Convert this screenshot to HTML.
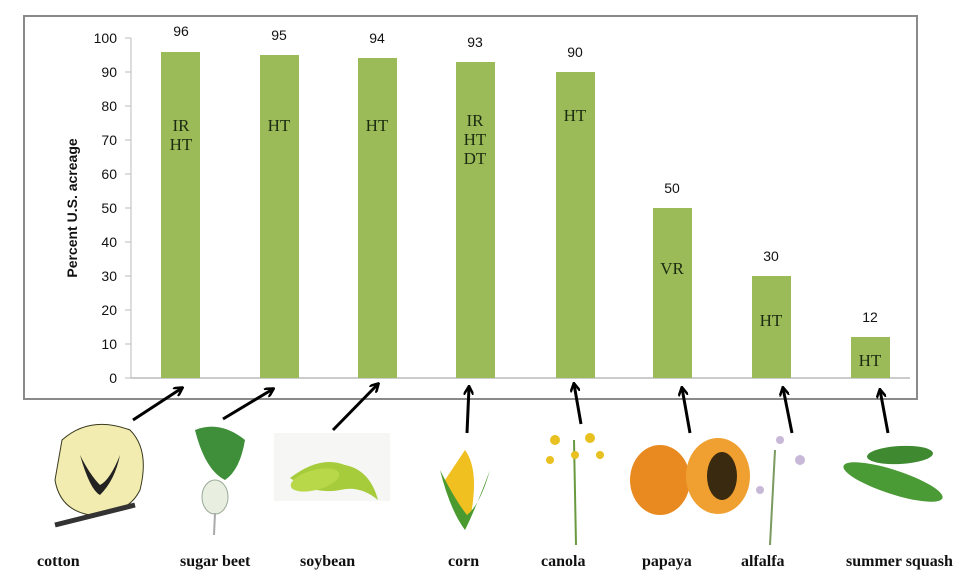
<!DOCTYPE html>
<html><head><meta charset="utf-8"><style>
body{margin:0;background:#fff;width:980px;height:573px;overflow:hidden}
svg{display:block}
.t{font-family:"Liberation Sans",sans-serif;font-size:14px;fill:#111}
.b{font-family:"Liberation Serif",serif;font-size:17px;fill:#1a2a10}
.n{font-family:"Liberation Serif",serif;font-size:16px;font-weight:bold;fill:#111}
</style></head><body>
<svg width="980" height="573" viewBox="0 0 980 573">
<defs><marker id="ah" markerWidth="10" markerHeight="10" refX="8" refY="5" orient="auto" markerUnits="userSpaceOnUse"><path d="M0,0 L9,5 L0,10" fill="none" stroke="#000" stroke-width="2.5"/></marker></defs>
<rect x="24" y="16" width="893" height="383" fill="#fff" stroke="#8a8a8a" stroke-width="2"/>
<line x1="131" y1="38" x2="131" y2="378" stroke="#bbb"/>
<line x1="131" y1="378" x2="910" y2="378" stroke="#bbb" stroke-width="1.5"/>
<g stroke="#bbb">
<line x1="125" y1="38" x2="131" y2="38"/><line x1="125" y1="72" x2="131" y2="72"/><line x1="125" y1="106" x2="131" y2="106"/><line x1="125" y1="140" x2="131" y2="140"/><line x1="125" y1="174" x2="131" y2="174"/><line x1="125" y1="208" x2="131" y2="208"/><line x1="125" y1="242" x2="131" y2="242"/><line x1="125" y1="276" x2="131" y2="276"/><line x1="125" y1="310" x2="131" y2="310"/><line x1="125" y1="344" x2="131" y2="344"/><line x1="125" y1="378" x2="131" y2="378"/>
</g>
<g class="t" text-anchor="end">
<text x="117" y="43">100</text><text x="117" y="77">90</text><text x="117" y="111">80</text><text x="117" y="145">70</text><text x="117" y="179">60</text><text x="117" y="213">50</text><text x="117" y="247">40</text><text x="117" y="281">30</text><text x="117" y="315">20</text><text x="117" y="349">10</text><text x="117" y="383">0</text>
</g>
<text class="t" font-weight="bold" font-size="13" transform="translate(77,208) rotate(-90)" text-anchor="middle">Percent U.S. acreage</text>
<g fill="#9bbb59">
<rect x="161" y="52" width="39" height="326"/>
<rect x="260" y="55" width="39" height="323"/>
<rect x="358" y="58" width="39" height="320"/>
<rect x="456" y="62" width="39" height="316"/>
<rect x="556" y="72" width="39" height="306"/>
<rect x="653" y="208" width="39" height="170"/>
<rect x="752" y="276" width="39" height="102"/>
<rect x="851" y="337" width="39" height="41"/>
</g>
<g class="t" text-anchor="middle">
<text x="181" y="36">96</text><text x="279" y="40">95</text><text x="377" y="43">94</text><text x="475" y="47">93</text><text x="575" y="57">90</text><text x="672" y="193">50</text><text x="771" y="261">30</text><text x="870" y="322">12</text>
</g>
<g class="b" text-anchor="middle">
<text x="181" y="131">IR</text><text x="181" y="150">HT</text>
<text x="279" y="131">HT</text><text x="377" y="131">HT</text>
<text x="475" y="126">IR</text><text x="475" y="145">HT</text><text x="475" y="164">DT</text>
<text x="575" y="121">HT</text><text x="672" y="274">VR</text><text x="771" y="326">HT</text><text x="870" y="366">HT</text>
</g>
<g stroke="#000" stroke-width="3" marker-end="url(#ah)">
<line x1="133" y1="420" x2="182" y2="388"/>
<line x1="223" y1="419" x2="273" y2="389"/>
<line x1="333" y1="430" x2="378" y2="384"/>
<line x1="467" y1="433" x2="469" y2="387"/>
<line x1="581" y1="424" x2="574" y2="384"/>
<line x1="690" y1="433" x2="682" y2="388"/>
<line x1="792" y1="433" x2="783" y2="388"/>
<line x1="888" y1="433" x2="880" y2="390"/>
</g>
<path d="M62,440 Q90,415 130,430 Q150,450 140,490 Q128,515 90,515 Q60,510 55,480 Z" fill="#f3ecb0" stroke="#3a3a20"/>
<path d="M80,455 Q90,490 100,495 Q115,480 120,455 Q110,480 100,485 Q90,475 80,455Z" fill="#222"/>
<path d="M55,525 L135,505" stroke="#333" stroke-width="5"/>
<path d="M195,430 Q220,420 245,440 Q240,470 225,480 Q205,470 195,430Z" fill="#3f8f3a"/>
<ellipse cx="215" cy="497" rx="13" ry="17" fill="#e8eee0" stroke="#9a9"/>
<line x1="215" y1="513" x2="214" y2="535" stroke="#aaa" stroke-width="2"/>
<rect x="274" y="433" width="116" height="68" fill="#f6f6f4"/>
<path d="M290,478 Q320,455 345,465 Q370,470 378,500 Q360,485 340,490 Q315,495 290,478Z" fill="#a6cc3c"/>
<ellipse cx="315" cy="480" rx="25" ry="10" fill="#b8d84a" transform="rotate(-15 315 480)"/>
<path d="M465,450 Q480,470 470,520 Q455,520 445,480 Z" fill="#f0c020"/>
<path d="M440,470 Q450,510 465,530 Q475,510 490,470 Q480,505 467,515 Q455,500 440,470Z" fill="#4a9a30"/>
<line x1="574" y1="440" x2="576" y2="545" stroke="#6a9a40" stroke-width="2"/>
<g fill="#e8c020"><circle cx="555" cy="440" r="5"/><circle cx="590" cy="438" r="5"/><circle cx="575" cy="455" r="4"/><circle cx="600" cy="455" r="4"/><circle cx="550" cy="460" r="4"/></g>
<ellipse cx="660" cy="480" rx="30" ry="35" fill="#e88a20"/>
<ellipse cx="718" cy="476" rx="32" ry="38" fill="#f0a030"/>
<ellipse cx="722" cy="476" rx="15" ry="24" fill="#3a2a10"/>
<line x1="775" y1="450" x2="770" y2="545" stroke="#7a9a60" stroke-width="2"/>
<g fill="#c8b8d8"><circle cx="800" cy="460" r="5"/><circle cx="780" cy="440" r="4"/><circle cx="760" cy="490" r="4"/></g>
<ellipse cx="900" cy="455" rx="33" ry="9" fill="#3f8a30" transform="rotate(-3 900 455)"/>
<ellipse cx="893" cy="482" rx="52" ry="12" fill="#4a9a35" transform="rotate(18 893 482)"/>
<g class="n">
<text x="37" y="566">cotton</text><text x="180" y="566">sugar beet</text><text x="300" y="566">soybean</text><text x="448" y="566">corn</text><text x="541" y="566">canola</text><text x="642" y="566">papaya</text><text x="741" y="566">alfalfa</text><text x="846" y="566">summer squash</text>
</g>
</svg>
</body></html>
